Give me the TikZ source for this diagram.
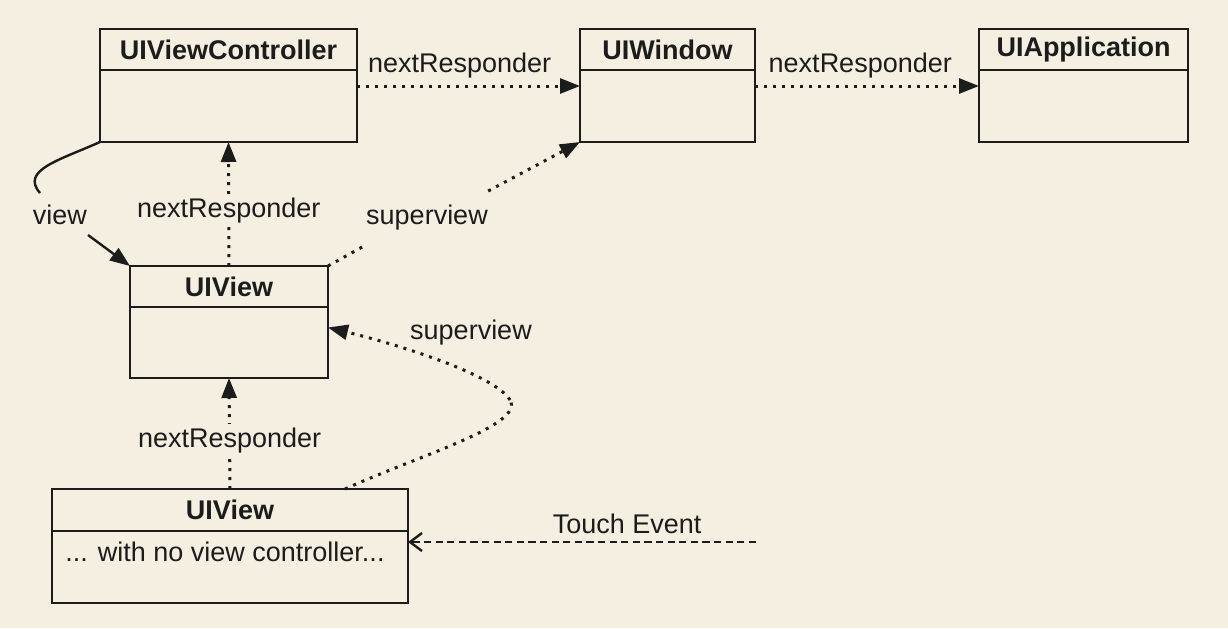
\documentclass[tikz,border=0pt]{standalone}
\usepackage{fontspec}
\setmainfont{Liberation Sans}
\usepackage{tikz}
\usetikzlibrary{positioning, arrows.meta, calc}
\definecolor{paper}{RGB}{245,239,226}
\definecolor{ink}{RGB}{28,28,28}

\begin{document}
\begin{tikzpicture}[x=0.5pt, y=-0.5pt,
  font=\fontsize{13.5}{16}\selectfont, text=ink,
  hdr/.style={draw=ink, line width=1.2pt, inner sep=0pt, outer sep=0pt, minimum height=20.5pt,
    font=\fontsize{13.5}{16}\selectfont\bfseries},
  box/.style={draw=ink, line width=1.2pt, inner sep=0pt, outer sep=0pt},
  resp/.style={ink, line width=1.5pt, dash pattern=on 1.5pt off 3pt,
    -{Triangle[length=10pt, width=7.5pt]}},
  plain/.style={ink, line width=1.2pt},
  touch/.style={ink, line width=1.2pt, dash pattern=on 3.6pt off 2.2pt,
    -{Straight Barb[length=6pt, width=9pt, line width=1.2pt]}},
  lbl/.style={fill=paper, inner sep=2pt}]
\useasboundingbox (0,0) rectangle (1228,628);
\fill[paper] (0,0) rectangle (1228,628);

% Top row
\node[hdr, minimum width=128.5pt] (vch) at (228.5,49.5) {UIViewController};
\node[box, minimum width=128.5pt, minimum height=36pt, below=0pt of vch] (vcb) {};
\node[hdr, minimum width=87.5pt] (winh) at (667.5,49.5) {UIWindow};
\node[box, minimum width=87.5pt, minimum height=36pt, below=0pt of winh] (winb) {};
\node[hdr, minimum width=104.5pt] (apph) at (1083.5,49.5) {UIApplication};
\node[box, minimum width=104.5pt, minimum height=36pt, below=0pt of apph] (appb) {};

% Views
\node[hdr, minimum width=99pt] (v1h) at (229,286.5) {UIView};
\node[box, minimum width=99pt, minimum height=35.5pt, below=0pt of v1h] (v1b) {};
\node[hdr, minimum width=178pt, minimum height=21pt] (v2h) at (230,510) {UIView};
\node[box, minimum width=178pt, minimum height=36pt, below=0pt of v2h] (v2b) {};
\node[anchor=base west, inner sep=0pt] (v2t) at ([xshift=6.5pt,yshift=-15pt]v2b.north west)
  {... with no view controller...};

% nextResponder chain
\draw[resp] ([yshift=-8pt]vcb.north east) -- node[above, pos=0.46] {nextResponder} ([yshift=-8pt]winb.north west);
\draw[resp] ([yshift=-8pt]winb.north east) -- node[above, pos=0.47] {nextResponder} ([yshift=-8pt]appb.north west);
\draw[resp] (v1h.north) -- node[lbl, pos=0.45] {nextResponder} (vcb.south);
\draw[resp] (v2h.north) -- node[lbl, pos=0.44] {nextResponder} (v1b.south);

% superview links
\node[inner xsep=0pt, inner ysep=7pt] (sup1) at (427,218) {superview};
\draw[resp, -] (v1h.north east) -- (sup1.south west);
\draw[resp] (sup1.north east) -- (winb.south west);
\coordinate (bend) at (510,400);
\draw[resp, -] ([xshift=57.5pt]v2h.north) .. controls (420,455) and (525,425) .. (bend);
\draw[resp] (bend) .. controls (495,375) and (400,345) .. ([yshift=7.5pt]v1b.east);
\node (sup2) at (471,333) {superview};

% view property
\node[inner sep=0pt] (lview) at (60,215) {view};
\coordinate (vtail) at (40,193);
\coordinate (vhead) at (88,235);
\draw[plain] (vcb.south west) .. controls (60,160) and (20,170) .. (vtail);
\draw[plain, -{Triangle[length=10pt, width=7.5pt]}] (vhead) -- (v1h.north west);

% Touch event
\coordinate (tstart) at (756,542);
\draw[touch] (tstart) -- node[above, pos=0.37] {Touch Event} (tstart -| v2b.east);
\end{tikzpicture}
\end{document}
